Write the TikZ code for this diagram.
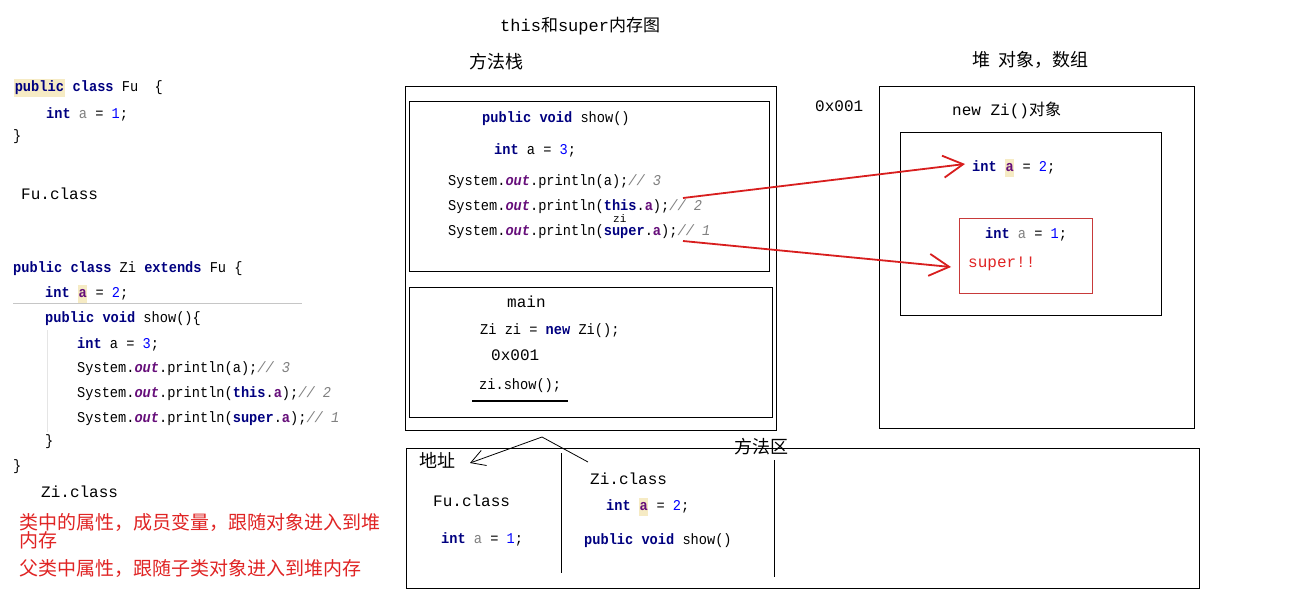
\documentclass[tikz,border=0pt]{standalone}
\usepackage{fontspec}
\setmainfont{Liberation Mono}
\newfontfamily\codefont[FakeStretch=0.91]{Liberation Mono}
\newfontfamily\cjk{Noto Sans CJK SC}
\usetikzlibrary{arrows.meta}
\definecolor{kwc}{HTML}{000080}
\definecolor{fldc}{HTML}{660E7A}
\definecolor{nmbc}{HTML}{0000FF}
\definecolor{cmtc}{HTML}{808080}
\definecolor{hlc}{HTML}{F6EBC4}
\definecolor{arrred}{HTML}{D81E1E}
\definecolor{txtred}{HTML}{E02424}
\definecolor{boxred}{HTML}{C83A3A}
\newcommand\kwd[1]{\textcolor{kwc}{\textbf{#1}}}
\newcommand\fldv[1]{\textcolor{fldc}{\textbf{#1}}}
\newcommand\nmb[1]{\textcolor{nmbc}{#1}}
\newcommand\cmnt[1]{\textcolor{cmtc}{\textit{#1}}}
\newcommand\gv[1]{\textcolor{cmtc}{#1}}
\newcommand\outv{\textcolor{fldc}{\textbf{\textit{out}}}}
\newcommand\hlb[1]{{\setlength{\fboxsep}{0.6pt}\colorbox{hlc}{\strut #1}}}
\newcommand\zh[1]{{\cjk #1}}
\begin{document}
\begin{tikzpicture}[x=1pt,y=-1pt,
  code/.style={anchor=west,inner sep=0pt,font=\codefont\fontsize{15}{17}\selectfont},
  lbl/.style={anchor=west,inner sep=0pt,font=\fontsize{16}{18}\selectfont},
  cn/.style={anchor=west,inner sep=0pt,font=\cjk\fontsize{18}{20}\selectfont},
  cnred/.style={anchor=west,inner sep=0pt,text=txtred,font=\cjk\fontsize{19}{21}\selectfont},
  frame/.style={draw=black,line width=1pt},
  redarrow/.style={draw=arrred,line width=1.8pt,-{Straight Barb[length=20pt,width=22pt,line width=1.8pt]}},
  thinarrow/.style={draw=black,line width=0.8pt,-{Straight Barb[length=14pt,width=16pt]}}]
\useasboundingbox[fill=white] (0,0) rectangle (1299,603);

% ---------- left code ----------
\node[code] (fu1) at (14,88) {\hlb{\kwd{public}} \kwd{class} Fu\ \ \{};
\node[code] (fu2) at (46,114) {\kwd{int} \gv{a} = \nmb{1};};
\node[code] (fu3) at (13,137) {\}};
\node[lbl] (fucls) at (21,194) {Fu.class};

\node[code] (zi1) at (13,269) {\kwd{public} \kwd{class} Zi \kwd{extends} Fu \{};
\node[code] (zi2) at (45,294) {\kwd{int} \hlb{\fldv{a}} = \nmb{2};};
\draw[gray!45,line width=0.8pt] (13,303) -- (302,303);
\node[code] (zi3) at (45,319) {\kwd{public} \kwd{void} show()\{};
\draw[gray!20,line width=0.8pt] (47,330) -- (47,432);
\node[code] (zi4) at (77,344) {\kwd{int} a = \nmb{3};};
\node[code] (zi5) at (77,369) {System.\outv.println(a);\cmnt{// 3}};
\node[code] (zi6) at (77,394) {System.\outv.println(\kwd{this}.\fldv{a});\cmnt{// 2}};
\node[code] (zi7) at (77,419) {System.\outv.println(\kwd{super}.\fldv{a});\cmnt{// 1}};
\node[code] (zi8) at (45,442) {\}};
\node[code] (zi9) at (13,467) {\}};
\node[lbl] (zicls) at (41,492) {Zi.class};
\node[cnred] (note1) at (19,522) {类中的属性，成员变量，跟随对象进入到堆};
\node[cnred] (note2) at (19,540) {内存};
\node[cnred] (note3) at (19,568) {父类中属性，跟随子类对象进入到堆内存};

% ---------- titles ----------
\node[lbl,font=\fontsize{17}{19}\selectfont] (title) at (500,26) {this\zh{和}super\zh{内存图}};
\node[cn] (stacktitle) at (469,62) {方法栈};
\node[cn] (heaptitle) at (972,60) {堆\hspace{8pt}对象，数组};

% ---------- method stack ----------
\draw[frame] (405,86) rectangle (776,430);
\draw[frame] (409,101) rectangle (769,271);
\draw[frame] (409,287) rectangle (772,417);

\node[code] (s1) at (482,119) {\kwd{public} \kwd{void} show()};
\node[code] (s2) at (494,150) {\kwd{int} a = \nmb{3};};
\node[code] (s3) at (448,182) {System.\outv.println(a);\cmnt{// 3}};
\node[code] (s4) at (448,207) {System.\outv.println(\kwd{this}.\fldv{a});\cmnt{// 2}};
\node[anchor=west,inner sep=0pt,font=\fontsize{11}{12}\selectfont] (zilbl) at (613,219) {zi};
\node[code] (s5) at (448,232) {System.\outv.println(\kwd{super}.\fldv{a});\cmnt{// 1}};

\node[lbl] (main) at (507,302) {main};
\node[code] (m1) at (480,331) {Zi zi = \kwd{new} Zi();};
\node[lbl] (addr1) at (491,355) {0x001};
\node[code] (m2) at (479,386) {zi.show();};
\draw[line width=1.2pt] (472,401) -- (568,401);

% ---------- heap ----------
\node[lbl] (addr2) at (815,106) {0x001};
\draw[frame] (879,86) rectangle (1194,428);
\node[lbl] (objtitle) at (952,110) {new Zi()\zh{对象}};
\draw[frame] (900,132) rectangle (1161,315);
\node[code] (h1) at (972,168) {\kwd{int} \hlb{\fldv{a}} = \nmb{2};};
\draw[draw=boxred,line width=1pt] (959,218) rectangle (1092,293);
\node[code] (h2) at (985,234) {\kwd{int} \gv{a} = \nmb{1};};
\node[lbl,text=txtred] (sup) at (968,264) {super!!};

% ---------- red arrows ----------
\coordinate (thisS) at (683,198);
\coordinate (thisE) at (965,164);
\coordinate (supS) at (683,241);
\coordinate (supE) at (951,267);
\draw[redarrow] (thisS) -- (thisE);
\draw[redarrow] (supS) -- (supE);

% ---------- method area ----------
\draw[frame] (406,448) rectangle (1199,588);
\node[cn] (areatitle) at (734,447) {方法区};
\draw[line width=1pt] (561,453) -- (561,573);
\draw[line width=1pt] (774,460) -- (774,577);
\node[cn] (addrlbl) at (419,460) {地址};
\node[lbl] (fuc) at (433,501) {Fu.class};
\node[code] (a1) at (441,539) {\kwd{int} \gv{a} = \nmb{1};};
\node[lbl] (zic) at (590,479) {Zi.class};
\node[code] (a2) at (606,507) {\kwd{int} \hlb{\fldv{a}} = \nmb{2};};
\node[code] (a3) at (584,541) {\kwd{public} \kwd{void} show()};

\coordinate (peak) at (542,437);
\coordinate (rightend) at (588,462);
\coordinate (tip) at (470,463);
\draw[thinarrow] (rightend) -- (peak) -- (tip);
\end{tikzpicture}
\end{document}
